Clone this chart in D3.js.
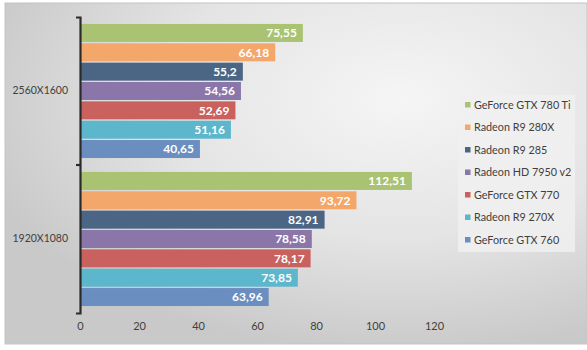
<!DOCTYPE html>
<html>
<head>
<meta charset="utf-8">
<script src="https://cdn.jsdelivr.net/npm/d3@7"></script>
<style>
  body { margin: 0; background: #fff; }
  text { font-family: Lato, "Open Sans", sans-serif; }
</style>
</head>
<body>
<div id="chart"></div>
<script>
// categories (top to bottom) and series (top to bottom within a group)
const resolutions = ["2560X1600", "1920X1080"];
const cards = ["GeForce GTX 780 Ti", "Radeon R9 280X", "Radeon R9 285", "Radeon HD 7950 v2",
               "GeForce GTX 770", "Radeon R9 270X", "GeForce GTX 760"];
const fps2560 = [75.55, 66.18, 55.2, 54.56, 52.69, 51.16, 40.65];
const fps1920 = [112.51, 93.72, 82.91, 78.58, 78.17, 73.85, 63.96];
const xTicks = [0, 20, 40, 60, 80, 100, 120];
const colors = ["#a9c373", "#f4a76b", "#4b6584", "#8b76aa", "#c9625f", "#5cb6cc", "#6a8ebf"];

const width = 587, height = 350;
const margin = { top: 17, left: 80, bottom: 37 };

const svg = d3.select("#chart").append("svg")
    .attr("width", width)
    .attr("height", height);

// background gradient like the excel chart area
const defs = svg.append("defs");
const grad = defs.append("radialGradient")
    .attr("id", "bg")
    .attr("cx", "68%").attr("cy", "28%").attr("r", "75%");
grad.append("stop").attr("offset", "0%").attr("stop-color", "#f5f5f5");
grad.append("stop").attr("offset", "55%").attr("stop-color", "#e4e4e4");
grad.append("stop").attr("offset", "100%").attr("stop-color", "#c9c9c9");

svg.append("rect")
    .attr("x", 5).attr("y", 3)
    .attr("width", 582).attr("height", 341)
    .attr("fill", "url(#bg)")
    .attr("stroke", "#c4c4c4")
    .attr("stroke-width", 1);

const data = resolutions.map((r, i) => ({
    res: r,
    values: cards.map((c, j) => ({ card: c, value: (i === 0 ? fps2560 : fps1920)[j], idx: j }))
}));

const x = d3.scaleLinear().domain([0, 120]).range([margin.left, 434]);
const y0 = d3.scaleBand().domain(resolutions).range([margin.top, height - margin.bottom]);
const y1 = d3.scaleBand().domain(cards).range([0, y0.bandwidth()])
    .paddingInner(0.07).paddingOuter(0.36);

const groups = svg.selectAll(".grp")
    .data(data)
    .join("g")
    .attr("class", "grp")
    .attr("transform", d => `translate(0,${y0(d.res)})`);

groups.selectAll("rect")
    .data(d => d.values)
    .join("rect")
    .attr("x", x(0))
    .attr("y", d => y1(d.card))
    .attr("width", d => x(d.value) - x(0))
    .attr("height", y1.bandwidth())
    .attr("fill", d => colors[d.idx]);

groups.selectAll("text")
    .data(d => d.values)
    .join("text")
    .attr("x", d => x(d.value) - 6)
    .attr("y", d => y1(d.card) + y1.bandwidth() / 2)
    .attr("dy", "0.36em")
    .attr("text-anchor", "end")
    .attr("fill", "#fff")
    .attr("font-weight", "bold")
    .attr("font-size", 12)
    .text(d => String(d.value).replace(".", ","));

// category axis
const yAxis = svg.append("g")
    .attr("transform", `translate(${x(0)},0)`)
    .call(d3.axisLeft(y0).tickSizeInner(0).tickSizeOuter(4).tickPadding(12));
yAxis.select(".domain").attr("stroke", "#2b2b2b").attr("stroke-width", 2.2);
yAxis.selectAll("text").attr("font-size", 10.5).attr("fill", "#404040")
    .style("font-family", "Lato, 'Open Sans', sans-serif");
yAxis.append("line")
    .attr("x1", -4).attr("x2", 0)
    .attr("y1", y0(resolutions[1])).attr("y2", y0(resolutions[1]))
    .attr("stroke", "#2b2b2b").attr("stroke-width", 2.2);

// value axis, labels only
const xAxis = svg.append("g")
    .attr("transform", `translate(0,${height - margin.bottom})`)
    .call(d3.axisBottom(x).tickValues(xTicks).tickSize(0).tickPadding(9));
xAxis.select(".domain").remove();
xAxis.selectAll("text").attr("font-size", 11).attr("fill", "#404040")
    .style("font-family", "Lato, 'Open Sans', sans-serif");

// legend
const legend = svg.append("g").attr("transform", "translate(458,95)");
legend.append("rect")
    .attr("width", 117).attr("height", 157)
    .attr("fill", "#f0f0f0").attr("opacity", 0.85);
const items = legend.selectAll(".item")
    .data(cards)
    .join("g")
    .attr("class", "item")
    .attr("transform", (d, i) => `translate(7,${10 + i * 22.5})`);
items.append("rect")
    .attr("x", 0).attr("y", -3)
    .attr("width", 5.5).attr("height", 5.5)
    .attr("fill", (d, i) => colors[i]);
items.append("text")
    .attr("x", 9).attr("y", 0)
    .attr("dy", "0.36em")
    .attr("font-size", 10.8)
    .attr("fill", "#404040")
    .text(d => d);
</script>
</body>
</html>
